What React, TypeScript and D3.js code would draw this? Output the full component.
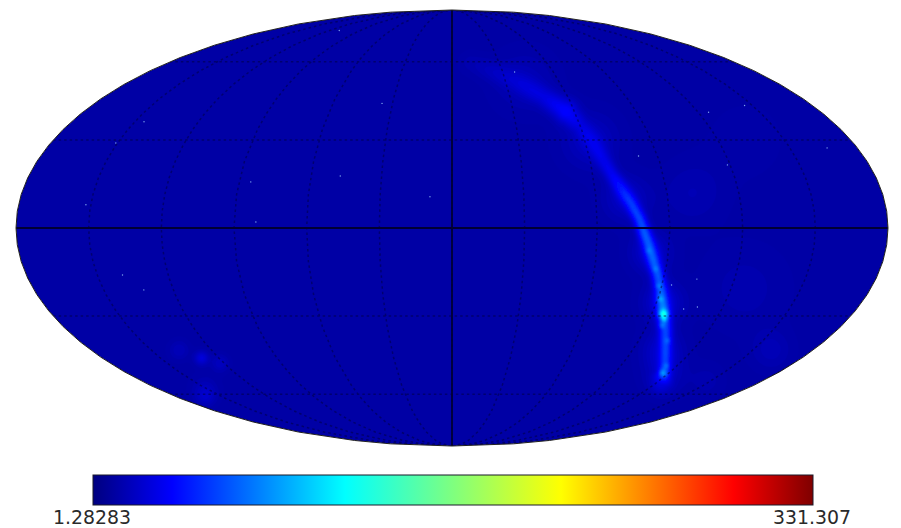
import React, { useMemo } from "react"
import * as d3 from "d3"

const chart_width = 901
const chart_height = 528
const grid_cell = 2

const valueMin = 1.28283
const valueMax = 331.307
const colorStops = [0, 0.11, 0.35, 0.5, 0.65, 0.89, 1]
const colorValues = ["#00007f", "#0000ff", "#00ffff", "#7fff7f", "#ffff00", "#ff0000", "#7f0000"]
const skyLevel = 12

/* ridge of the band across the sky (lon, lat in degrees) */
const bandLon = [11.4, 22.7, 35.4, 46.8, 55.3, 59.8, 63.1, 65.2, 67.7, 70.8, 74.2, 77.1, 79.1, 80.9, 82.5, 84.3, 86.3, 89.2, 92.1, 94.4, 96.8, 99.2, 104.7, 110.2, 116.9, 121.9]
const bandLat = [59.9, 56.5, 52.4, 46.5, 40.8, 35.3, 28.9, 23.7, 18.5, 13.4, 8.4, 3.4, -1.3, -5, -8.4, -11.8, -15.1, -20.2, -25.4, -28.9, -32.1, -35, -41.2, -46.2, -51.2, -55.3]
const bandValue = [4, 7, 9, 14, 27, 12, 14, 16, 20, 27, 36, 44, 50, 46, 46, 48, 48, 46, 52, 60, 48, 42, 36, 34, 42, 10]
const bandSpread = [8, 7, 7, 7, 8, 6, 6, 5.5, 5, 5, 4.5, 4.5, 4.5, 4.5, 4.5, 4.5, 4.5, 4.5, 4.5, 4.5, 4.5, 4.5, 4, 4, 4, 7]

/* brighter knots sitting on the band */
const knotLon = [87.9, 90.5, 94.4, 95.8, 96.1, 103.2, 115.1, 113.3, 85.1, 81.1]
const knotLat = [-19.2, -23.7, -28.9, -30.8, -33, -38.5, -50.8, -48, -13.4, -7.3]
const knotValue = [14, 18, 50, 24, 18, 14, 26, 14, 12, 10]
const knotSpread = [2, 2, 3, 2, 2, 2, 2.5, 2, 2, 2]

/* wide glow around the band and the faint patches elsewhere */
const glowLon = [40, 62, 72, 82, 92, 104, 118, 100, 125, 158, -128.8, -136, -122, -159.4, -150, 146, 132]
const glowLat = [52, 30, 10, -8, -25, -42, -52, 12, -20, -42, -45, -42, -47, -60.5, -57, -54, 30]
const glowValue = [6, 9, 10, 12, 14, 12, 8, 5, 4, 6, 16, 7, 9, 9, 5, 4, 2]
const glowSpread = [22, 20, 16, 14, 14, 14, 14, 22, 30, 14, 5, 7, 6, 7, 10, 12, 30]

/* isolated bright pixels */
const spotLon = [-150.7, -145.6, -152, -35.2, -47.5, -9.2, -139.3, -132.7, 37, 146, 166.5, -110, -81, -85, 104, 108.7, 103, 93.9, 81.6, 125, 118.8]
const spotLat = [28.9, 36.5, 7.8, 43.3, 17.5, 10.5, -15.8, -20.9, 55.7, 42.5, 27.2, 75, 2, 15.5, -17.2, -26.8, -27.5, -19.2, 24.4, 40, 21.3]

const mollweideRaw = (lambda: number, phi: number) => {
  const target = Math.PI * Math.sin(phi)
  let theta = phi
  for (let i = 0; i < 30; i++) {
    const delta = (2 * theta + Math.sin(2 * theta) - target) / (2 + 2 * Math.cos(2 * theta) + 1e-9)
    theta -= delta
    if (Math.abs(delta) < 1e-8) break
  }
  return [(2 * Math.SQRT2 / Math.PI) * lambda * Math.cos(theta), Math.SQRT2 * Math.sin(theta)] as [number, number]
}

const App = () => {
  const projection = useMemo(
    () =>
      d3
        .geoProjection(mollweideRaw)
        .fitExtent([[15, 10], [889, 446]], { type: "Sphere" } as any),
    []
  )
  const path = d3.geoPath(projection)

  const color = d3
    .scaleLinear<string>()
    .domain(colorStops)
    .range(colorValues)
    .interpolate(d3.interpolateRgb)
  const valueToUnit = d3.scaleLinear().domain([valueMin, valueMax]).range([0, 1])
  const x_bar = d3.scaleLinear().domain([0, 1]).range([93, 813])

  const contours = useMemo(() => {
    const cols = Math.ceil(chart_width / grid_cell)
    const rows = Math.ceil(chart_height / grid_cell)
    const field = new Float64Array(cols * rows).fill(skyLevel)
    const ridge = new Float64Array(cols * rows)

    const addSource = (lon: number, lat: number, value: number, spread: number) => {
      const [px, py] = projection([lon, lat]) as [number, number]
      const reach = spread * 4
      for (let r = Math.max(0, Math.floor((py - reach) / grid_cell)); r < Math.min(rows, (py + reach) / grid_cell); r++) {
        for (let c = Math.max(0, Math.floor((px - reach) / grid_cell)); c < Math.min(cols, (px + reach) / grid_cell); c++) {
          const dx = c * grid_cell - px
          const dy = r * grid_cell - py
          field[r * cols + c] += value * Math.exp(-(dx * dx + dy * dy) / (2 * spread * spread))
        }
      }
    }

    // the band is a soft stroke along its ridge, so it doesn't come out beaded
    for (let i = 0; i < bandLon.length - 1; i++) {
      const [ax, ay] = projection([bandLon[i], bandLat[i]]) as [number, number]
      const [bx, by] = projection([bandLon[i + 1], bandLat[i + 1]]) as [number, number]
      const reach = Math.max(bandSpread[i], bandSpread[i + 1]) * 4
      const len2 = (bx - ax) ** 2 + (by - ay) ** 2
      const r0 = Math.max(0, Math.floor((Math.min(ay, by) - reach) / grid_cell))
      const r1 = Math.min(rows, (Math.max(ay, by) + reach) / grid_cell)
      const c0 = Math.max(0, Math.floor((Math.min(ax, bx) - reach) / grid_cell))
      const c1 = Math.min(cols, (Math.max(ax, bx) + reach) / grid_cell)
      for (let r = r0; r < r1; r++) {
        for (let c = c0; c < c1; c++) {
          const x = c * grid_cell
          const y = r * grid_cell
          const t = Math.max(0, Math.min(1, ((x - ax) * (bx - ax) + (y - ay) * (by - ay)) / len2))
          const d2 = (x - ax - t * (bx - ax)) ** 2 + (y - ay - t * (by - ay)) ** 2
          const value = bandValue[i] + t * (bandValue[i + 1] - bandValue[i])
          const spread = bandSpread[i] + t * (bandSpread[i + 1] - bandSpread[i])
          const v = value * Math.exp(-d2 / (2 * spread * spread))
          if (v > ridge[r * cols + c]) ridge[r * cols + c] = v
        }
      }
    }
    ridge.forEach((v, i) => {
      field[i] += v
    })

    knotLon.forEach((lon, i) => addSource(lon, knotLat[i], knotValue[i], knotSpread[i]))
    glowLon.forEach((lon, i) => addSource(lon, glowLat[i], glowValue[i], glowSpread[i]))
    const thresholds = d3.range(skyLevel + 1, 170, 2)
    return d3.contours().size([cols, rows]).thresholds(thresholds)(Array.from(field))
  }, [projection])

  const gridPath = d3.geoPath(
    d3.geoTransform({
      point(x, y) {
        this.stream.point(x * grid_cell, y * grid_cell)
      },
    })
  )

  const graticule = d3
    .geoGraticule()
    .extent([[-180, -89.99], [180.01, 89.99]])
    .step([30, 30])

  const sphere = path({ type: "Sphere" } as any) as string

  return (
    <svg
      width={chart_width}
      height={chart_height}
      style={{ position: "absolute", left: 0, top: 0, background: "#fff" }}
      fontFamily="DejaVu Sans"
    >
      <defs>
        <clipPath id="sky">
          <path d={sphere} />
        </clipPath>
        <linearGradient id="jet" x1="0" x2="1" y1="0" y2="0">
          {colorStops.map((s, i) => (
            <stop key={s} offset={s} stopColor={colorValues[i]} />
          ))}
        </linearGradient>
        <filter id="soft" x="-2%" y="-2%" width="104%" height="104%">
          <feGaussianBlur stdDeviation="0.7" />
        </filter>
      </defs>

      <g clipPath="url(#sky)">
        <path d={sphere} fill={color(valueToUnit(skyLevel))} />
        <g filter="url(#soft)">
          {contours.map(c => (
            <path key={c.value} d={gridPath(c) as string} fill={color(valueToUnit(c.value))} />
          ))}
        </g>
        {spotLon.map((lon, i) => {
          const [cx, cy] = projection([lon, spotLat[i]]) as [number, number]
          return <circle key={i} cx={cx} cy={cy} r={0.7} fill="#9fd0ff" opacity={0.8} />
        })}
        <path
          d={path(graticule()) as string}
          fill="none"
          stroke="#00003a"
          strokeWidth={1.5}
          strokeDasharray="2.5 3"
          opacity={0.5}
        />
        <path
          d={path({ type: "LineString", coordinates: [[0, -90], [0, 0], [0, 90]] } as any) as string}
          fill="none"
          stroke="#000033"
          strokeWidth={1.8}
        />
        <path
          d={path({ type: "LineString", coordinates: d3.range(-180, 180.01, 5).map(l => [Math.min(l, 179.99), 0]) } as any) as string}
          fill="none"
          stroke="#000033"
          strokeWidth={1.8}
        />
      </g>
      <path d={sphere} fill="none" stroke="#222" strokeWidth={1} />

      <rect x={x_bar(0)} y={475} width={x_bar(1) - x_bar(0)} height={30} fill="url(#jet)" stroke="#1a1a2a" strokeWidth={1} />
      <text x={92} y={524} fontSize={18.9} textAnchor="middle" fill="#2a2a2a">
        {d3.format(".6")(valueMin)}
      </text>
      <text x={812} y={524} fontSize={18.9} textAnchor="middle" fill="#2a2a2a">
        {d3.format(".6")(valueMax)}
      </text>
    </svg>
  )
}

export default App
